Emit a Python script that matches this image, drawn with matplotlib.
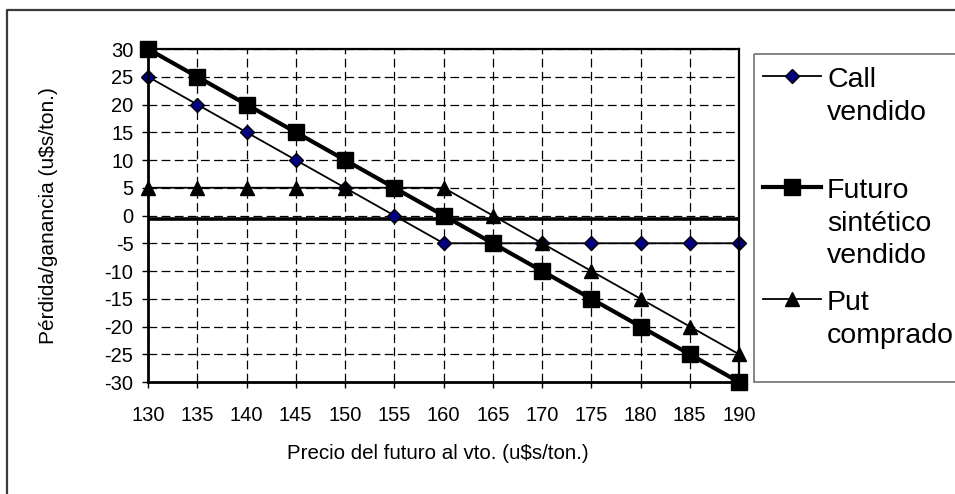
import matplotlib
matplotlib.use("Agg")
import matplotlib.pyplot as plt
from matplotlib.lines import Line2D
from matplotlib.patches import Rectangle

plt.rcParams['font.family'] = ['Liberation Sans', 'DejaVu Sans']
plt.rcParams['axes.unicode_minus'] = False

# Precio del futuro al vencimiento (u$s/ton.)
prices = [130, 135, 140, 145, 150, 155, 160, 165, 170, 175, 180, 185, 190]

# Resultado de cada posición (u$s/ton.)
call_vendido = [25, 20, 15, 10, 5, 0, -5, -5, -5, -5, -5, -5, -5]
futuro_sintetico_vendido = [30, 25, 20, 15, 10, 5, 0, -5, -10, -15, -20, -25, -30]
put_comprado = [5, 5, 5, 5, 5, 5, 5, 0, -5, -10, -15, -20, -25]

series_labels = [["Call", "vendido"],
                 ["Futuro", "sintético", "vendido"],
                 ["Put", "comprado"]]

x_ticks = list(range(130, 191, 5))
y_ticks = list(range(-30, 31, 5))

W, H = 955, 494
fig = plt.figure(figsize=(W / 100, H / 100), dpi=100)
fig.patch.set_facecolor("white")

ax = fig.add_axes([148 / W, 1 - 382 / H, (739 - 148) / W, (382 - 49) / H])

styles = [
    dict(color="black", lw=1.3, marker="D", ms=7.2, mfc="#000080", mec="black", mew=1.0),
    dict(color="black", lw=3.0, marker="s", ms=12.0, mfc="black", mec="black", mew=1.0),
    dict(color="black", lw=1.3, marker="^", ms=10.5, mfc="black", mec="black", mew=1.0),
]
data = [call_vendido, futuro_sintetico_vendido, put_comprado]

# zero reference line
ax.axhline(-0.6, color="black", lw=2.6, zorder=2)

for vals, st, z in zip(data, styles, [3, 4, 5]):
    ax.plot(prices, vals, clip_on=False, zorder=z, **st)

ax.set_xlim(130, 190)
ax.set_ylim(-30, 30)
ax.set_xticks(x_ticks)
ax.set_yticks(y_ticks)
ax.grid(True, color="black", lw=0.9, linestyle=(0, (7, 3.5)), zorder=1)
ax.set_axisbelow(True)

ax.tick_params(axis="both", direction="out", length=4.5, width=1.0, colors="black",
               labelsize=14.5)
ax.tick_params(axis="x", pad=12.5)
ax.tick_params(axis="y", pad=6)

for side in ["left", "bottom"]:
    ax.spines[side].set_linewidth(2.0)
for side in ["top", "right"]:
    ax.spines[side].set_linewidth(1.6)
for sp in ax.spines.values():
    sp.set_color("black")
    sp.set_zorder(6)

ax.set_xlabel("Precio del futuro al vto. (u$s/ton.)", fontsize=14.8)
ax.set_ylabel("Pérdida/ganancia (u$s/ton.)", fontsize=15)
ax.xaxis.set_label_coords(0.49, -0.186)
ax.yaxis.set_label_coords(-0.152, 0.5)

# overlay in pixel coordinates for the frame and legend
ov = fig.add_axes([0, 0, 1, 1], zorder=10)
ov.set_xlim(0, W)
ov.set_ylim(H, 0)
ov.axis("off")
ov.patch.set_alpha(0)

ov.add_line(Line2D([7, 7, W + 5], [H + 5, 10, 10], color="#3a3a3a", lw=1.6))

ov.add_patch(Rectangle((754, 54), 230, 328, fill=False, edgecolor="#707070", lw=1.2))

first_baselines = [87, 198, 310]
line_step = 32.5
for lines, st, base in zip(series_labels, styles, first_baselines):
    hy = base - 11
    ov.add_line(Line2D([763, 792, 821], [hy, hy, hy], markevery=[1], **st))
    for i, txt in enumerate(lines):
        ov.text(827, base + i * line_step, txt, fontsize=20.5, va="baseline", ha="left")

fig.savefig("out.png", dpi=100, facecolor="white")
